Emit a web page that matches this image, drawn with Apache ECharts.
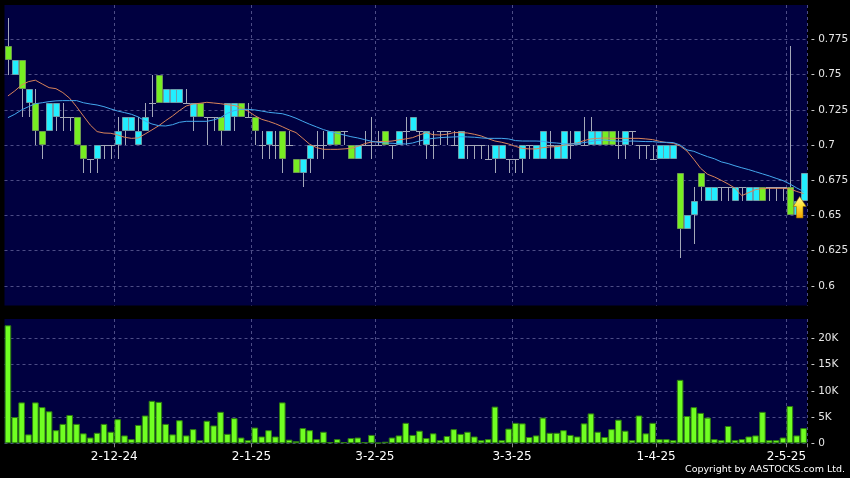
<!DOCTYPE html>
<html><head><meta charset="utf-8">
<script src="https://cdn.jsdelivr.net/npm/echarts@6.0.0/dist/echarts.min.js"></script>
<style>html,body{margin:0;padding:0;background:#000;}#c{width:850px;height:478px;}</style>
</head><body><div id="c"></div>
<script>
// ---- data (117 trading days) ----
const opens = [
.77,.75,.76,.73,.73,.71,.71,.72,.72,.72,
.72,.70,.69,.69,.70,.70,.70,.71,.71,.70,
.71,.73,.75,.73,.73,.73,.73,.72,.73,.72,
.72,.72,.71,.72,.73,.72,.72,.70,.70,.70,
.71,.70,.69,.68,.69,.70,.70,.70,.71,.71,
.70,.69,.70,.70,.70,.71,.70,.70,.71,.71,
.71,.70,.70,.71,.71,.70,.69,.70,.70,.70,
.69,.69,.69,.69,.69,.69,.70,.69,.69,.70,
.69,.69,.70,.70,.70,.70,.70,.71,.71,.70,
.70,.71,.70,.70,.69,.69,.69,.69,.68,.64,
.65,.68,.66,.66,.67,.67,.66,.67,.66,.66,
.67,.67,.67,.67,.67,.65,.66];
const closes = [
.76,.76,.74,.74,.71,.70,.73,.73,.72,.72,
.70,.69,.69,.70,.70,.70,.71,.72,.72,.71,
.72,.73,.73,.74,.74,.74,.73,.73,.72,.72,
.72,.71,.73,.73,.72,.72,.71,.70,.71,.70,
.69,.70,.68,.69,.70,.70,.70,.71,.70,.71,
.69,.70,.70,.70,.70,.70,.70,.71,.71,.72,
.71,.71,.70,.71,.71,.70,.71,.70,.70,.70,
.69,.70,.70,.69,.69,.70,.70,.70,.71,.70,
.70,.71,.70,.71,.70,.71,.71,.70,.70,.70,
.71,.71,.70,.70,.69,.70,.70,.70,.64,.65,
.66,.67,.67,.67,.67,.67,.67,.67,.67,.67,
.66,.67,.67,.67,.65,.66,.68];
const lows = [
.75,.75,.72,.72,.70,.69,.71,.71,.71,.71,
.70,.68,.68,.68,.69,.69,.69,.70,.71,.70,
.71,.72,.73,.73,.73,.73,.73,.71,.72,.70,
.71,.70,.71,.71,.72,.72,.70,.69,.69,.69,
.68,.70,.68,.67,.68,.69,.69,.70,.70,.70,
.69,.69,.70,.69,.70,.70,.69,.70,.70,.71,
.70,.69,.69,.70,.70,.70,.69,.69,.69,.69,
.69,.68,.69,.68,.68,.68,.69,.69,.69,.69,
.69,.69,.69,.70,.70,.70,.70,.70,.70,.69,
.69,.70,.69,.69,.69,.69,.69,.69,.62,.64,
.63,.66,.66,.66,.66,.66,.66,.66,.66,.66,
.66,.66,.66,.66,.65,.65,.66];
const highs = [
.79,.76,.76,.74,.74,.71,.73,.73,.73,.72,
.72,.70,.69,.70,.70,.70,.72,.72,.72,.72,
.73,.75,.75,.74,.74,.74,.74,.73,.73,.72,
.72,.72,.73,.73,.73,.73,.72,.71,.71,.71,
.71,.71,.69,.69,.70,.71,.71,.71,.71,.71,
.70,.70,.71,.72,.71,.71,.70,.71,.72,.72,
.71,.71,.71,.71,.71,.71,.71,.70,.70,.70,
.70,.70,.70,.69,.69,.70,.70,.70,.71,.71,
.70,.71,.71,.71,.72,.72,.71,.71,.71,.71,
.71,.71,.70,.70,.70,.70,.70,.70,.68,.65,
.67,.68,.67,.67,.67,.67,.67,.67,.67,.67,
.67,.67,.67,.67,.77,.66,.68];
const volumes = [
22500,5000,7800,1700,7800,6900,6100,2500,3700,5400,
3700,1900,1100,2000,3700,2200,4600,1500,800,3500,
5300,8100,7900,3700,1700,4400,1500,2700,600,4300,
3400,6000,1800,4800,1100,600,3000,1300,2500,1300,
7800,700,400,2900,2500,800,2200,250,800,250,
1000,1100,250,1600,100,300,1100,1500,3900,1600,
2400,1000,1900,600,1400,2700,1800,2200,1300,600,
800,7000,600,2800,3900,3800,1200,1500,4900,2000,
2000,2500,1600,1300,3800,5700,2200,1200,2700,4500,
2400,600,5300,1900,3900,800,800,600,12100,5200,
6900,5800,4900,800,600,3300,600,800,1300,1500,
6000,600,600,1100,7100,1500,2900];
const maShort = [
.7348,.7384,.7426,.745,.746,.7433,.7407,.740,.7372,.7332,
.7272,.7206,.7142,.7095,.7085,.7083,.7071,.7055,.7047,.705,
.7078,.7107,.7137,.7173,.7206,.7244,.7277,.7291,.7296,.7303,
.7298,.7293,.7286,.728,.7265,.7241,.7208,.7182,.7168,.7151,
.713,.7107,.7088,.7047,.7005,.6981,.6969,.6969,.6969,.6972,
.6976,.699,.7009,.7021,.7024,.7024,.7028,.7036,.7043,.7052,
.7071,.7088,.7073,.7071,.7076,.7088,.7088,.7085,.7076,.7064,
.7045,.7028,.7019,.7007,.699,.6976,.6972,.6972,.6981,.6986,
.6988,.6998,.7007,.7014,.7031,.7043,.7047,.705,.7047,.7047,
.7047,.7047,.7047,.7043,.7038,.7026,.7017,.7012,.6993,.6957,
.6898,.6834,.6792,.6773,.6749,.6723,.6693,.664,.6662,.6683,
.669,.6692,.6692,.6692,.6688,.667,.6655];
const maLong = [
.7194,.7218,.7249,.7272,.7293,.730,.7308,.7313,.7315,.7315,
.7315,.730,.7291,.7284,.7272,.7256,.7241,.723,.7218,.7199,
.717,.7149,.7137,.7135,.7144,.7161,.7168,.7168,.7168,.7168,
.7178,.7194,.7225,.7244,.7253,.7253,.7249,.7241,.7232,.7227,
.7222,.7208,.719,.7168,.7147,.7128,.7109,.7095,.7083,.7071,
.7059,.705,.7038,.7026,.7019,.7014,.7012,.7009,.7007,.7014,
.7028,.704,.7047,.7052,.7055,.7057,.7059,.7057,.7055,.705,
.7047,.7047,.7047,.7043,.7031,.7028,.7028,.7028,.7026,.7017,
.7014,.7009,.7007,.7009,.7017,.7024,.7033,.7035,.703,.7027,
.7026,.7028,.7026,.7024,.7024,.7019,.7019,.7017,.700,.6965,
.6955,.6935,.6917,.6902,.688,.6868,.6852,.6838,.6825,.681,
.6795,.678,.6763,.6747,.6723,.6695,.667];
const categories = opens.map((_, i) => String(i + 1));
const tickIndex = [16, 36, 54, 74, 95, 114];
const tickLabels = ['2-12-24', '2-1-25', '3-2-25', '3-3-25', '1-4-25', '2-5-25'];
const priceTicks = [0.6, 0.625, 0.65, 0.675, 0.7, 0.725, 0.75, 0.775];
const volumeTicks = [0, 5000, 10000, 15000, 20000];
const arrowAt = [115, 0.6558];

// ---- chart ----
const FONT = 'DejaVu Sans';
const candleData = opens.map((o, i) => [i, o, closes[i], lows[i], highs[i]]);
const isTick = (idx) => tickIndex.indexOf(idx) >= 0;
const gridLine = { show: true, interval: (idx) => isTick(idx), lineStyle: { color: '#4c4c86', type: [3, 3], width: 1 } };
const hLine = { show: true, lineStyle: { color: '#4c4c86', type: [3, 3], width: 1 } };

function renderCandle(params, api) {
  const idx = api.value(0), o = api.value(1), c = api.value(2), l = api.value(3), h = api.value(4);
  const pO = api.coord([idx, o]), pC = api.coord([idx, c]);
  const pL = api.coord([idx, l]), pH = api.coord([idx, h]);
  const cx = Math.round(pO[0]) + 0.5;
  const children = [{
    type: 'line', shape: { x1: cx, y1: Math.round(pH[1]), x2: cx, y2: Math.round(pL[1]) },
    style: { stroke: '#a4a8b8', lineWidth: 1 }
  }];
  if (o === c) {
    const y = Math.round(pO[1]) + 0.5;
    children.push({ type: 'line', shape: { x1: cx - 3.5, y1: y, x2: cx + 3.5, y2: y }, style: { stroke: '#a4a8b8', lineWidth: 1 } });
  } else {
    const up = c > o;
    const top = Math.round(Math.min(pO[1], pC[1])) + 0.5;
    const bot = Math.round(Math.max(pO[1], pC[1])) - 0.5;
    children.push({
      type: 'rect', shape: { x: cx - 3, y: top, width: 6, height: bot - top },
      style: { fill: up ? '#22eeff' : '#77ee22', stroke: up ? '#6a9eaa' : '#6e9a50', lineWidth: 1 }
    });
  }
  return { type: 'group', children };
}

const chart = echarts.init(document.getElementById('c'), null, { renderer: 'canvas' });
chart.setOption({
  animation: false,
  backgroundColor: '#000000',
  grid: [
    { left: 4.5, top: 5, width: 802.5, height: 300.5, show: true, backgroundColor: '#000040', borderWidth: 0, containLabel: false, outerBoundsMode: 'none' },
    { left: 4.5, top: 319, width: 802.5, height: 124.3, show: true, backgroundColor: '#000040', borderWidth: 0, containLabel: false, outerBoundsMode: 'none' }
  ],
  xAxis: [
    { type: 'category', gridIndex: 0, data: categories, boundaryGap: true,
      axisLine: { show: false }, axisTick: { show: false }, axisLabel: { show: false }, splitLine: gridLine },
    { type: 'category', gridIndex: 1, data: categories, boundaryGap: true,
      axisLine: { show: false },
      axisTick: { show: true, interval: (idx) => isTick(idx), length: 4, lineStyle: { color: '#888' } },
      axisLabel: { show: true, interval: (idx) => isTick(idx), color: '#ffffff', fontFamily: FONT, fontSize: 12, margin: 8,
        padding: [0, 6.86, 0, 0],
        formatter: (v, idx) => { const k = tickIndex.indexOf(idx); return k >= 0 ? tickLabels[k] : ''; } },
      splitLine: gridLine }
  ],
  yAxis: [
    { type: 'value', gridIndex: 0, position: 'right', min: 0.586, max: 0.7994, scale: true,
      axisLine: { show: false }, axisTick: { show: false, customValues: priceTicks },
      axisLabel: { customValues: priceTicks, color: '#e6e6e6', fontFamily: FONT, fontSize: 10.5, margin: 4,
        formatter: (v) => '- ' + parseFloat(Number(v).toFixed(3)) },
      splitLine: hLine },
    { type: 'value', gridIndex: 1, position: 'right', min: 0, max: 23700,
      axisLine: { show: false }, axisTick: { show: false, customValues: volumeTicks },
      axisLabel: { customValues: volumeTicks, color: '#e6e6e6', fontFamily: FONT, fontSize: 10.5, margin: 4,
        formatter: (v) => '- ' + (v === 0 ? '0' : (v / 1000) + 'K') },
      splitLine: hLine }
  ],
  series: [
    { type: 'custom', xAxisIndex: 0, yAxisIndex: 0, renderItem: renderCandle, data: candleData,
      encode: { x: 0, y: [1, 2, 3, 4] }, z: 2 },
    { type: 'line', xAxisIndex: 0, yAxisIndex: 0, data: maShort, showSymbol: false, symbol: 'none',
      lineStyle: { color: '#d9845a', width: 1 }, z: 3 },
    { type: 'line', xAxisIndex: 0, yAxisIndex: 0, data: maLong, showSymbol: false, symbol: 'none',
      lineStyle: { color: '#44a8ee', width: 1 }, z: 3 },
    { type: 'bar', xAxisIndex: 1, yAxisIndex: 1, data: volumes, barCategoryGap: '4%',
      itemStyle: { color: '#70ff22', borderColor: '#2e7d10', borderWidth: 1 } },
    { type: 'scatter', xAxisIndex: 0, yAxisIndex: 0, data: [arrowAt], z: 5,
      symbol: 'path://M6.5,0 L13,10 L9.8,10 L9.8,21.5 L3.2,21.5 L3.2,10 L0,10 Z',
      symbolSize: [13, 21.5], symbolOffset: [3, 0],
      itemStyle: { opacity: 1, borderColor: '#8a6400', borderWidth: 0.6,
        color: new echarts.graphic.LinearGradient(0, 0, 0, 1, [
          { offset: 0, color: '#ffffa8' }, { offset: 0.45, color: '#ffe030' }, { offset: 1, color: '#f0a000' }]) } }
  ],
  graphic: [
    { type: 'text', right: 5, top: 465, style: { text: 'Copyright by AASTOCKS.com Ltd.', fill: '#ffffff', font: '9.5px "DejaVu Sans"' } }
  ]
});
</script></body></html>
